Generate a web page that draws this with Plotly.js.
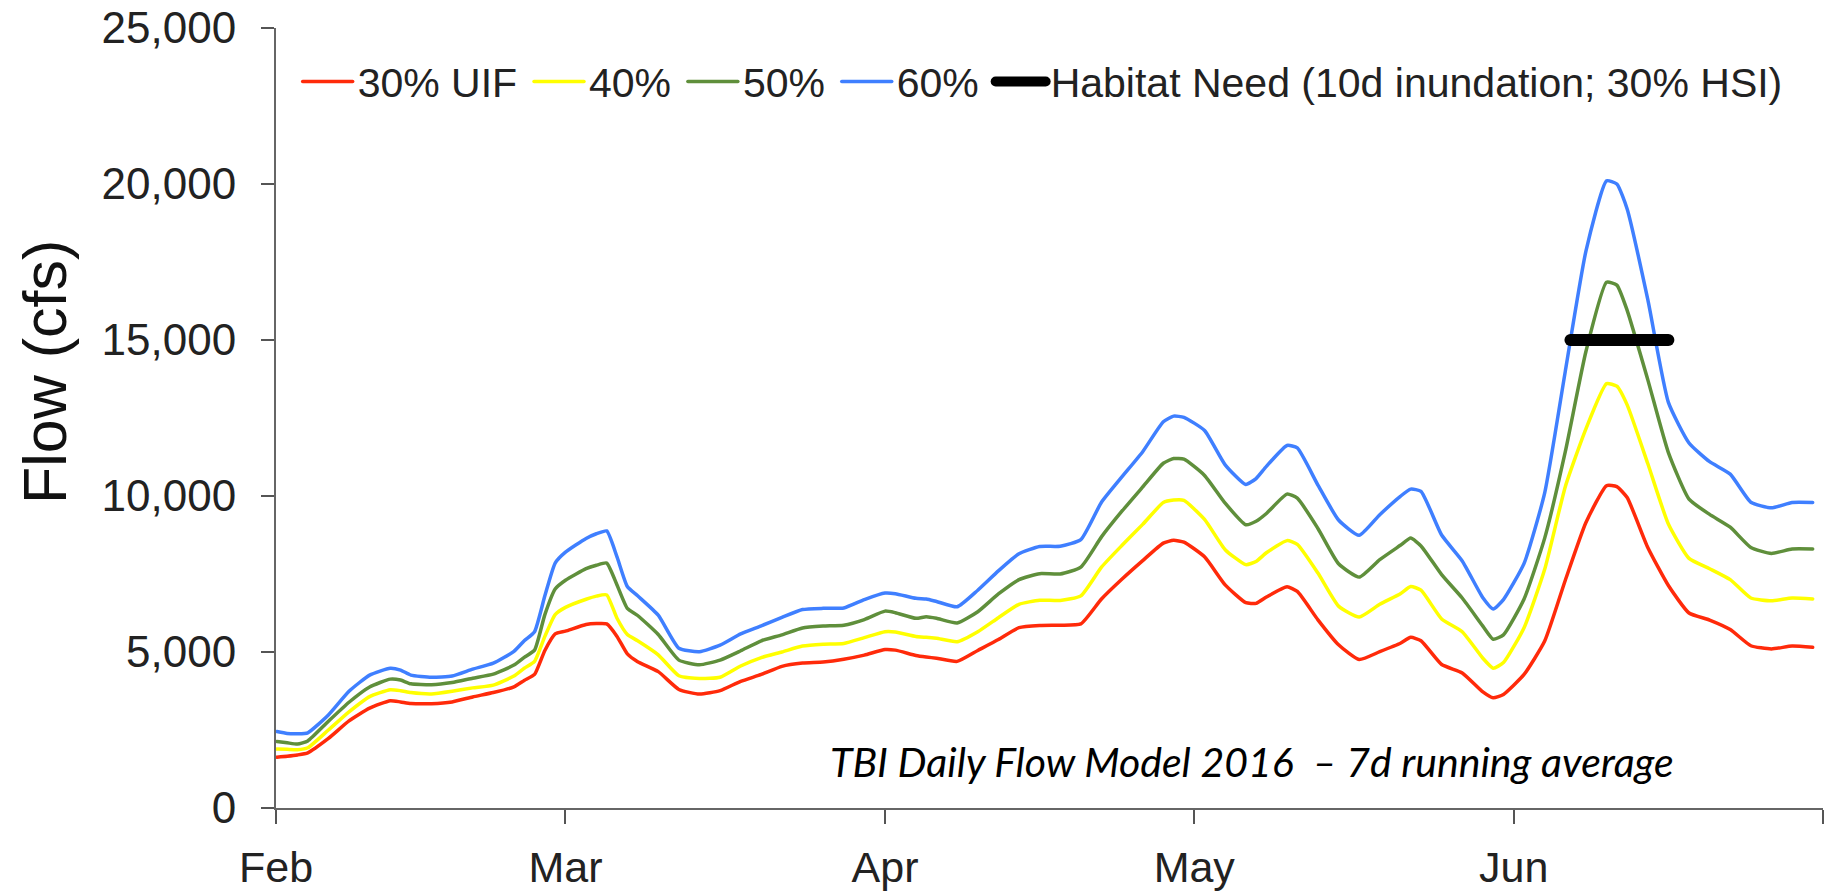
<!DOCTYPE html>
<html>
<head>
<meta charset="utf-8">
<script src="https://cdn.plot.ly/plotly-3.0.1.min.js"></script>
<style>
  html, body { margin: 0; padding: 0; background: #fff; }
  #chart { width: 1833px; height: 893px; }
  .scatterlayer path.js-line, .legendlines path { stroke-linecap: round; }
</style>
</head>
<body>
<div id="chart"></div>
<script>
// 7-day running average of modelled daily flow (cfs)
const DATES = [
  '2016-02-02', '2016-02-03', '2016-02-04', '2016-02-05', '2016-02-07', '2016-02-09', '2016-02-11', '2016-02-13', '2016-02-14', '2016-02-15',
  '2016-02-17', '2016-02-19', '2016-02-21', '2016-02-23', '2016-02-25', '2016-02-26', '2016-02-27', '2016-02-28', '2016-02-29', '2016-03-01',
  '2016-03-03', '2016-03-04', '2016-03-05', '2016-03-06', '2016-03-07', '2016-03-08', '2016-03-10', '2016-03-12', '2016-03-14', '2016-03-16',
  '2016-03-18', '2016-03-20', '2016-03-22', '2016-03-24', '2016-03-26', '2016-03-28', '2016-03-30', '2016-04-01', '2016-04-02', '2016-04-04',
  '2016-04-05', '2016-04-06', '2016-04-08', '2016-04-10', '2016-04-12', '2016-04-14', '2016-04-16', '2016-04-18', '2016-04-20', '2016-04-22',
  '2016-04-24', '2016-04-26', '2016-04-28', '2016-04-29', '2016-04-30', '2016-05-02', '2016-05-04', '2016-05-06', '2016-05-07', '2016-05-08',
  '2016-05-10', '2016-05-11', '2016-05-13', '2016-05-15', '2016-05-17', '2016-05-19', '2016-05-21', '2016-05-22', '2016-05-23', '2016-05-25',
  '2016-05-27', '2016-05-29', '2016-05-30', '2016-05-31', '2016-06-02', '2016-06-04', '2016-06-06', '2016-06-08', '2016-06-10', '2016-06-11',
  '2016-06-12', '2016-06-14', '2016-06-16', '2016-06-18', '2016-06-20', '2016-06-22', '2016-06-24', '2016-06-26', '2016-06-28', '2016-06-30'
];

const UIF_30 = [
  1630, 1660, 1700, 1770, 2230, 2790, 3200, 3440, 3400, 3350,
  3345, 3400, 3560, 3700, 3880, 4090, 4280, 5050, 5580, 5670,
  5880, 5910, 5900, 5500, 4940, 4690, 4370, 3800, 3650, 3760,
  4060, 4280, 4540, 4645, 4680, 4770, 4900, 5080, 5060, 4890,
  4840, 4800, 4700, 5050, 5400, 5780, 5850, 5860, 5900, 6700,
  7340, 7930, 8490, 8580, 8520, 8050, 7150, 6580, 6560, 6760,
  7090, 6940, 6030, 5230, 4760, 5010, 5280, 5470, 5360, 4600,
  4330, 3720, 3530, 3640, 4280, 5350, 7300, 9150, 10330, 10300,
  9950, 8350, 7130, 6250, 6025, 5720, 5200, 5100, 5190, 5150
];

const UIF_40 = [
  1890, 1880, 1870, 1930, 2500, 3080, 3570, 3790, 3760, 3700,
  3655, 3740, 3850, 3940, 4230, 4480, 4700, 5500, 6200, 6430,
  6690, 6790, 6830, 6080, 5560, 5360, 4910, 4240, 4150, 4190,
  4550, 4820, 5000, 5190, 5250, 5275, 5460, 5650, 5640, 5500,
  5470, 5440, 5330, 5650, 6100, 6530, 6660, 6650, 6800, 7720,
  8420, 9090, 9790, 9870, 9860, 9250, 8280, 7800, 7900, 8180,
  8570, 8450, 7530, 6470, 6120, 6530, 6870, 7100, 6980, 6060,
  5650, 4800, 4480, 4660, 5780, 7650, 10300, 12150, 13600, 13520,
  12920, 11040, 9100, 8000, 7670, 7320, 6730, 6640, 6730, 6700
];

const UIF_50 = [
  2130, 2090, 2050, 2150, 2780, 3390, 3880, 4130, 4100, 3980,
  3950, 4020, 4160, 4290, 4580, 4830, 5060, 6200, 7020, 7300,
  7670, 7780, 7850, 7150, 6400, 6170, 5560, 4740, 4590, 4740,
  5040, 5360, 5550, 5770, 5830, 5860, 6040, 6310, 6260, 6080,
  6130, 6080, 5930, 6290, 6860, 7320, 7510, 7500, 7720, 8690,
  9520, 10290, 11050, 11200, 11180, 10660, 9770, 9080, 9190, 9440,
  10060, 9930, 8960, 7830, 7400, 7960, 8420, 8650, 8400, 7480,
  6730, 5830, 5410, 5550, 6700, 8650, 11420, 14630, 16850, 16760,
  15950, 13730, 11390, 9900, 9410, 9000, 8350, 8160, 8300, 8300
];

const UIF_60 = [
  2450, 2390, 2380, 2410, 2980, 3740, 4260, 4480, 4420, 4260,
  4190, 4230, 4450, 4640, 5020, 5360, 5650, 6800, 7850, 8200,
  8640, 8790, 8880, 8050, 7100, 6800, 6180, 5120, 5010, 5220,
  5580, 5840, 6110, 6360, 6400, 6410, 6680, 6890, 6870, 6720,
  6700, 6620, 6450, 6980, 7600, 8150, 8380, 8390, 8600, 9800,
  10620, 11420, 12380, 12560, 12520, 12100, 11000, 10370, 10560, 10950,
  11620, 11540, 10350, 9230, 8740, 9400, 9990, 10220, 10150, 8750,
  7920, 6740, 6380, 6680, 7840, 10100, 14000, 17850, 20100, 20000,
  19200, 16300, 13000, 11700, 11100, 10700, 9800, 9620, 9790, 9790
];

// 10 days of inundation at the habitat threshold
const HABITAT_DATES = ['2016-06-06 12:00', '2016-06-16'];
const HABITAT_FLOW = [15000, 15000];

const SERIES = [
  {name: '30% UIF', y: UIF_30, color: '#ff2a0a'},
  {name: '40%', y: UIF_40, color: '#ffff00'},
  {name: '50%', y: UIF_50, color: '#5f8f3b'},
  {name: '60%', y: UIF_60, color: '#3f7fff'},
];

const MONTH_TICKS = ['2016-02-01 22:00', '2016-03-01', '2016-04-01', '2016-05-01', '2016-06-01', '2016-07-01'];
const MONTH_LABELS = ['Feb', 'Mar', 'Apr', 'May', 'Jun', ''];

const FONT = 'Liberation Sans, Arial, Helvetica, sans-serif';
// small trailing gap so legend entries spread out like the original
const PAD = '\u2006';

var traces = SERIES.map(s => ({
  x: DATES,
  y: s.y,
  name: s.name + PAD,
  type: 'scatter',
  mode: 'lines',
  line: {color: s.color, width: 3.5, shape: 'spline', smoothing: 0.5},
  hoverinfo: 'skip',
}));
traces.push({
  x: HABITAT_DATES,
  y: HABITAT_FLOW,
  name: 'Habitat Need (10d inundation; 30% HSI)',
  type: 'scatter',
  mode: 'lines',
  line: {color: '#000', width: 12},
  hoverinfo: 'skip',
});

const axisStyle = {
  showgrid: false,
  zeroline: false,
  showline: true,
  linecolor: '#666',
  linewidth: 2,
  ticks: 'outside',
  tickcolor: '#555',
  tickwidth: 2,
};

const layout = {
  width: 1833,
  height: 893,
  margin: {l: 276, r: 10, t: 28, b: 85},
  paper_bgcolor: '#fff',
  plot_bgcolor: '#fff',
  font: {family: FONT, size: 44, color: '#222'},
  showlegend: true,
  legend: {
    orientation: 'h',
    x: 0.014,
    xanchor: 'left',
    y: 0.931,
    yanchor: 'middle',
    font: {family: FONT, size: 41, color: '#222'},
    bgcolor: 'rgba(0,0,0,0)',
    itemwidth: 50,
  },
  xaxis: Object.assign({}, axisStyle, {
    type: 'date',
    range: ['2016-02-01 22:00', '2016-07-01'],
    tickmode: 'array',
    tickvals: MONTH_TICKS,
    ticktext: MONTH_LABELS,
    ticklen: 14,
    ticklabelstandoff: 6,
    tickfont: {family: FONT, size: 43, color: '#222'},
  }),
  yaxis: Object.assign({}, axisStyle, {
    range: [0, 25000],
    dtick: 5000,
    tickformat: ',d',
    ticklen: 13,
    ticklabelstandoff: 16,
  }),
  annotations: [
    {
      // y-axis title sits above the plot's middle in the original
      text: 'Flow (cfs)',
      textangle: -90,
      xref: 'paper', yref: 'paper',
      x: -0.1493, y: 0.559,
      xanchor: 'center', yanchor: 'middle',
      showarrow: false,
      font: {family: FONT, size: 61, color: '#111'},
    },
    {
      text: '<i>TBI Daily Flow Model 2016\u00a0 \u2013 7d running average</i>',
      xref: 'paper', yref: 'paper',
      x: 0.631, y: 0.059,
      xanchor: 'center', yanchor: 'middle',
      showarrow: false,
      font: {family: 'Lato, Open Sans, sans-serif', size: 41, color: '#000'},
    },
  ],
};

Plotly.newPlot('chart', traces, layout, {displayModeBar: false, staticPlot: true});
</script>
</body>
</html>
